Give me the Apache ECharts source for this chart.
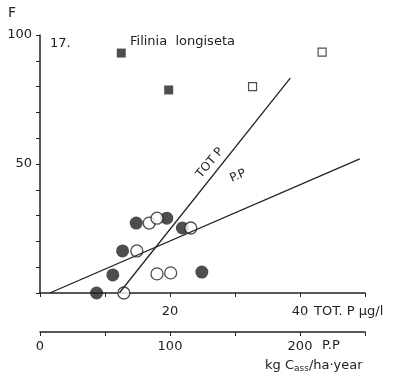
<!DOCTYPE html>
<html>
<head>
<meta charset="utf-8">
<script src="https://cdn.jsdelivr.net/npm/echarts@6/dist/echarts.min.js"></script>
<style>
html, body { margin: 0; padding: 0; background: #fff; }
#main { width: 393px; height: 384px; }
</style>
</head>
<body>
<div id="main"></div>
<script>
// Filinia longiseta, F against TOT.P (ug/l) ; P.P on second scale
var filledSquares = [[12.5, 93], [19.8, 78.7]];
var openSquares = [[32.7, 80], [43.4, 93.4]];
var filledCircles = [[14.8, 27.1], [19.5, 29], [21.9, 25.2], [12.7, 16.3], [11.2, 7], [8.7, 0], [24.9, 8.1]];
var openCircles = [[16.8, 27.1], [18, 29], [23.2, 25.2], [14.9, 16.3], [18, 7.4], [20.1, 7.8], [12.9, 0]];
var totPLine = [[12.2, 0], [38.5, 83.3]];
var ppLine = [[1.5, 0], [49.2, 52]];
var yLabels = [50, 100];
var xLabels = [20, 40];
var ppLabels = [0, 100, 200];

var font = 'DejaVu Sans';
var ink = '#222';

var myChart = echarts.init(document.getElementById('main'));
var option = {
	backgroundColor: '#fff',
	animation: false,
	grid: { left: 40, right: 28, top: 35, bottom: 91 },
	xAxis: [{
		type: 'value', min: 0, max: 50, interval: 10,
		splitLine: { show: false },
		axisLine: { lineStyle: { color: ink, width: 1.5 } },
		axisTick: { length: 4, lineStyle: { color: ink } },
		axisLabel: {
			margin: 12, color: ink, fontFamily: font, fontSize: 13,
			formatter: function (v) { return xLabels.indexOf(v) >= 0 ? String(v) : ''; }
		}
	}, {
		type: 'value', min: 0, max: 250, interval: 50, position: 'bottom', offset: 39,
		splitLine: { show: false },
		axisLine: { onZero: false, lineStyle: { color: ink, width: 1.5 } },
		axisTick: { length: 4, lineStyle: { color: ink } },
		axisLabel: {
			margin: 8, color: ink, fontFamily: font, fontSize: 13,
			formatter: function (v) { return ppLabels.indexOf(v) >= 0 ? String(v) : ''; }
		}
	}],
	yAxis: {
		type: 'value', min: 0, max: 100, interval: 10,
		splitLine: { show: false },
		axisLine: { lineStyle: { color: ink, width: 1.5 } },
		axisTick: { length: 4, lineStyle: { color: ink } },
		axisLabel: {
			margin: 8, color: ink, fontFamily: font, fontSize: 13,
			formatter: function (v) { return yLabels.indexOf(v) >= 0 ? String(v) : ''; }
		}
	},
	series: [{
		type: 'line', data: totPLine, symbol: 'none',
		lineStyle: { color: ink, width: 1.3 }
	}, {
		type: 'line', data: ppLine, symbol: 'none',
		lineStyle: { color: ink, width: 1.3 }
	}, {
		type: 'scatter', data: filledSquares, symbol: 'rect', symbolSize: 9,
		itemStyle: { color: ink }
	}, {
		type: 'scatter', data: openSquares, symbol: 'rect', symbolSize: 8,
		itemStyle: { color: '#fff', borderColor: ink, borderWidth: 1.2 }
	}, {
		type: 'scatter', data: filledCircles, symbol: 'circle', symbolSize: 13,
		itemStyle: { color: ink }
	}, {
		type: 'scatter', data: openCircles, symbol: 'circle', symbolSize: 12,
		itemStyle: { color: '#fff', borderColor: ink, borderWidth: 1.3 }
	}],
	graphic: [
		{ type: 'text', left: 8, top: 6, style: { text: 'F', font: '14px ' + font, fill: ink } },
		{ type: 'text', left: 50, top: 37, style: { text: '17.', font: '13px ' + font, fill: ink } },
		{ type: 'text', left: 130, top: 35, style: { text: 'Filinia  longiseta', font: '13px ' + font, fill: ink } },
		{ type: 'text', x: 210, y: 163, rotation: 50 * Math.PI / 180,
			style: { text: 'TOT P', font: '12px ' + font, fill: ink, align: 'center', verticalAlign: 'middle' } },
		{ type: 'text', x: 238, y: 176, rotation: 23 * Math.PI / 180,
			style: { text: 'P.P', font: '12px ' + font, fill: ink, align: 'center', verticalAlign: 'middle' } },
		{ type: 'text', x: 314, y: 312,
			style: { text: 'TOT. P µg/l', font: '13px ' + font, fill: ink, verticalAlign: 'middle' } },
		{ type: 'text', x: 322, y: 346,
			style: { text: 'P.P', font: '13px ' + font, fill: ink, verticalAlign: 'middle' } },
		{ type: 'text', x: 265, y: 366,
			style: {
				text: '{n|kg C}{s|ass}{n|/ha·year}', verticalAlign: 'middle',
				rich: {
					n: { font: '13px ' + font, fill: ink, color: ink },
					s: { font: '9px ' + font, fill: ink, color: ink, verticalAlign: 'bottom', padding: [6, 0, 0, 0] }
				}
			}
		}
	]
};
myChart.setOption(option);
</script>
</body>
</html>
